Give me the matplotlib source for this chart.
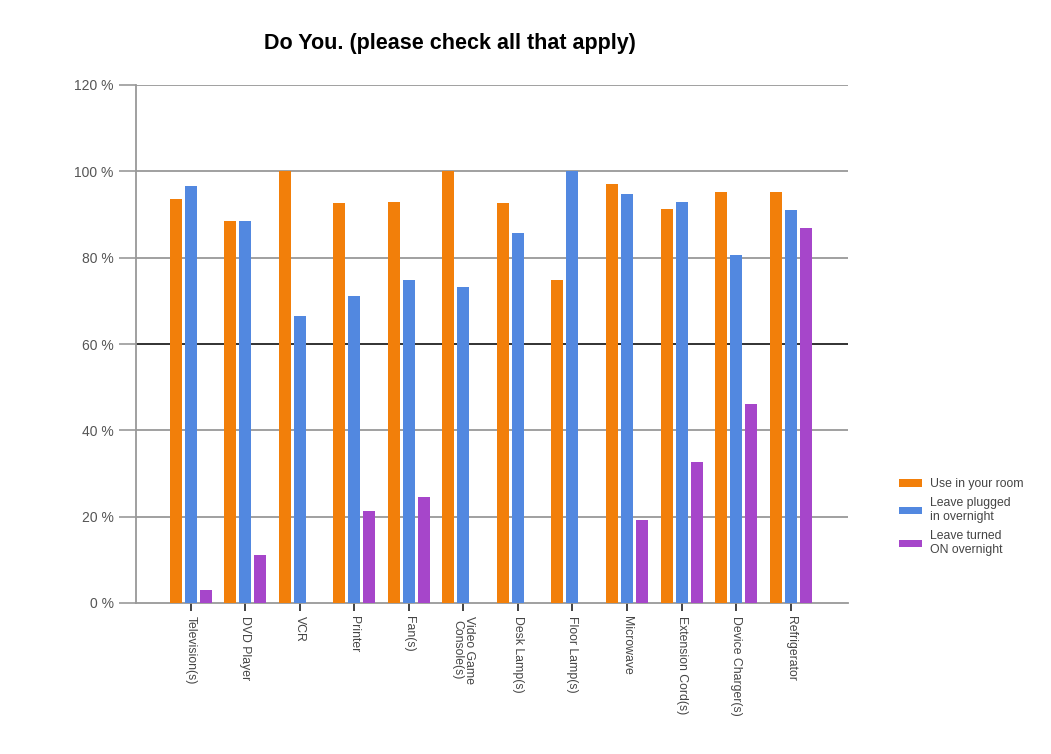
import numpy as np
import matplotlib
matplotlib.use("Agg")
import matplotlib.pyplot as plt

plt.rcParams['font.family'] = ['Liberation Sans', 'DejaVu Sans']

items = ["Television(s)", "DVD Player", "VCR", "Printer", "Fan(s)",
         "Video Game\nConsole(s)", "Desk Lamp(s)", "Floor Lamp(s)", "Microwave",
         "Extension Cord(s)", "Device Charger(s)", "Refrigerator"]
use_in_room = [93.6, 88.4, 100, 92.6, 92.8, 100, 92.6, 74.8, 97.0, 91.2, 95.3, 95.3]
plugged_in = [96.5, 88.4, 66.5, 71.1, 74.9, 73.3, 85.7, 100, 94.8, 92.9, 80.6, 91.0]
turned_on = [3.1, 11.2, 0, 21.4, 24.6, 0, 0, 0, 19.2, 32.6, 46.2, 86.9]
series_names = ["Use in your room", "Leave plugged\nin overnight", "Leave turned\nON overnight"]
colors = ["#f27f0a", "#5288e0", "#a646ca"]
yticks = [0, 20, 40, 60, 80, 100, 120]

fig = plt.figure(figsize=(10.51, 7.54), dpi=100)
ax = fig.add_axes([136/1051, 151/754, 712/1051, 518/754])

x = np.arange(len(items))
w = 0.22
step = 0.275
for i, (vals, name, c) in enumerate(zip([use_in_room, plugged_in, turned_on], series_names, colors)):
    ax.bar(x + (i - 1) * step, vals, width=w, color=c, label=name, zorder=3)

ax.set_xlim(-1.0, 12.05)
ax.set_ylim(0, 120)
ax.set_yticks(yticks)
ax.set_yticklabels([f"{v} %" for v in yticks], color="#555555", fontsize=10)
for v in yticks[1:]:
    lc = "#222222" if v == 60 else "#999999"
    ax.axhline(v, color=lc, lw=1.3, zorder=1)

ax.set_xticks(x)
ax.set_xticklabels(items, rotation=270, fontsize=8.8, color="#444444",
                   ha="center", va="top", linespacing=0.95)
ax.tick_params(axis="x", length=6, width=1.2, color="#222222", pad=3)
ax.tick_params(axis="y", length=12, width=1.2, color="#999999", pad=4)

for s in ["top", "right"]:
    ax.spines[s].set_visible(False)
ax.spines["left"].set_color("#999999")
ax.spines["left"].set_linewidth(1.3)
ax.spines["bottom"].set_color("#999999")
ax.spines["bottom"].set_linewidth(1.3)

fig.text(450/1051, 1 - 43/754, "Do You. (please check all that apply)",
         ha="center", va="center", fontsize=15.5, fontweight="bold")

fig.legend(loc="upper left", bbox_to_anchor=(888/1051, 1 - 467/754),
           frameon=False, fontsize=8.8, labelcolor="#444444",
           handlelength=1.9, handleheight=0.6, labelspacing=0.6, handletextpad=0.6)

fig.savefig("out.png", dpi=100)
